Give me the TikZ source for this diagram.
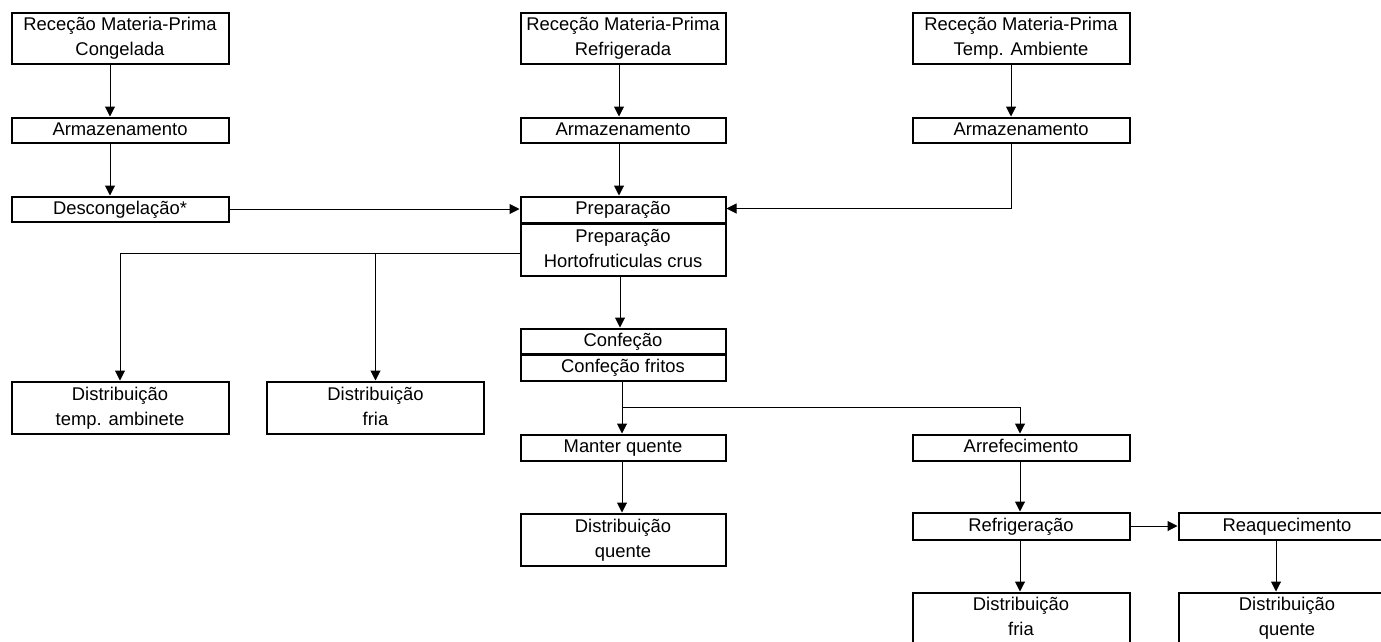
\documentclass[tikz,border=0pt]{standalone}
\usepackage{fontspec}
\setmainfont{Liberation Sans}
\usetikzlibrary{arrows.meta}
\newcommand{\mystrut}{\rule[-7.5pt]{0pt}{25pt}}
\tikzset{
  box/.style={draw, line width=2pt, inner sep=0pt, minimum width=217pt, minimum height=25pt,
    align=center, font=\fontsize{18.4}{25}\selectfont},
  mid/.style={minimum width=205pt},
  tall/.style={minimum height=51pt},
  conn/.style={line width=1pt, -{Triangle[length=10pt,width=10pt]}},
}
\begin{document}
\begin{tikzpicture}[x=1pt,y=-1pt]
\useasboundingbox (0,0) rectangle (1381,641);
\fill[white] (0,0) rectangle (1381,641);
\clip (0,0) rectangle (1381,641);
% column 1
\node[box,tall] (rc) at (120,38) {\mystrut Receção Materia-Prima\\\mystrut Congelada};
\node[box] (a1) at (120,130) {\mystrut Armazenamento};
\node[box] (d1) at (120,209) {\mystrut Descongelação*};
% column 2
\node[box,mid,tall] (rr) at (623,38) {\mystrut Receção Materia-Prima\\\mystrut Refrigerada};
\node[box,mid] (a2) at (623,130) {\mystrut Armazenamento};
\node[box,mid,minimum height=26pt] (prep) at (623,209.5) {\mystrut Preparação};
\node[box,mid,minimum height=52pt] (hort) at (623,249.5) {\mystrut Preparação\\\mystrut Hortofruticulas crus};
% column 3
\node[box,tall] (rt) at (1021,38) {\mystrut Receção Materia-Prima\\\mystrut Temp. Ambiente};
\node[box] (a3) at (1021,130) {\mystrut Armazenamento};
% distribution left
\node[box,minimum height=52pt] (dt) at (120,407.5) {\mystrut Distribuição\\\mystrut temp. ambinete};
\node[box,minimum height=52pt] (df) at (375.5,407.5) {\mystrut Distribuição\\\mystrut fria};
% confecao
\node[box,mid] (conf) at (623,341) {\mystrut Confeção};
\node[box,mid,minimum height=26pt] (conff) at (623,367.5) {\mystrut Confeção fritos};
\node[box,mid,minimum height=26pt] (mq) at (623,447.5) {\mystrut Manter quente};
\node[box,mid,minimum height=52pt] (dq) at (623,539.5) {\mystrut Distribuição\\\mystrut quente};
% right branch
\node[box,minimum height=26pt] (arr) at (1021,447.5) {\mystrut Arrefecimento};
\node[box,minimum height=27pt] (refr) at (1021,526) {\mystrut Refrigeração};
\node[box,minimum height=27pt] (reaq) at (1287,526) {\mystrut Reaquecimento};
\node[box,tall] (df2) at (1021,618) {\mystrut Distribuição\\\mystrut fria};
\node[box,tall] (dq2) at (1287,618) {\mystrut Distribuição\\\mystrut quente};
% connectors
\draw[conn] ([xshift=-10pt]rc.south) -- ([xshift=-10pt]a1.north);
\draw[conn] ([xshift=-10pt]a1.south) -- ([xshift=-10pt]d1.north);
\draw[conn] ([xshift=-4pt]rr.south) -- ([xshift=-4pt]a2.north);
\draw[conn] ([xshift=-4pt]a2.south) -- ([xshift=-4pt]prep.north);
\draw[conn] ([xshift=-10pt]rt.south) -- ([xshift=-10pt]a3.north);
\draw[conn] (d1.east) -- (d1.east -| prep.west);
\draw[conn] ([xshift=-10pt]a3.south) |- ([yshift=1pt]prep.east);
\draw[conn] ([yshift=-3.5pt]hort.west) -| (dt.north);
\draw[conn] ([yshift=-3.5pt]hort.west -| df.north) -- (df.north);
\draw[conn] ([xshift=-3pt]hort.south) -- ([xshift=-3pt]conf.north);
\draw[conn] ([xshift=-1pt]conff.south) -- ([xshift=-1pt]mq.north);
\draw[conn] ([xshift=-1pt]conff.south) ++(0,26) -| ([xshift=-1pt]arr.north);
\draw[conn] ([xshift=-1pt]mq.south) -- ([xshift=-1pt]dq.north);
\draw[conn] ([xshift=-1pt]arr.south) -- ([xshift=-1pt]refr.north);
\draw[conn] (refr.east) -- (reaq.west);
\draw[conn] ([xshift=-1pt]refr.south) -- ([xshift=-1pt]df2.north);
\draw[conn] ([xshift=-11pt]reaq.south) -- ([xshift=-11pt]dq2.north);
\end{tikzpicture}
\end{document}
